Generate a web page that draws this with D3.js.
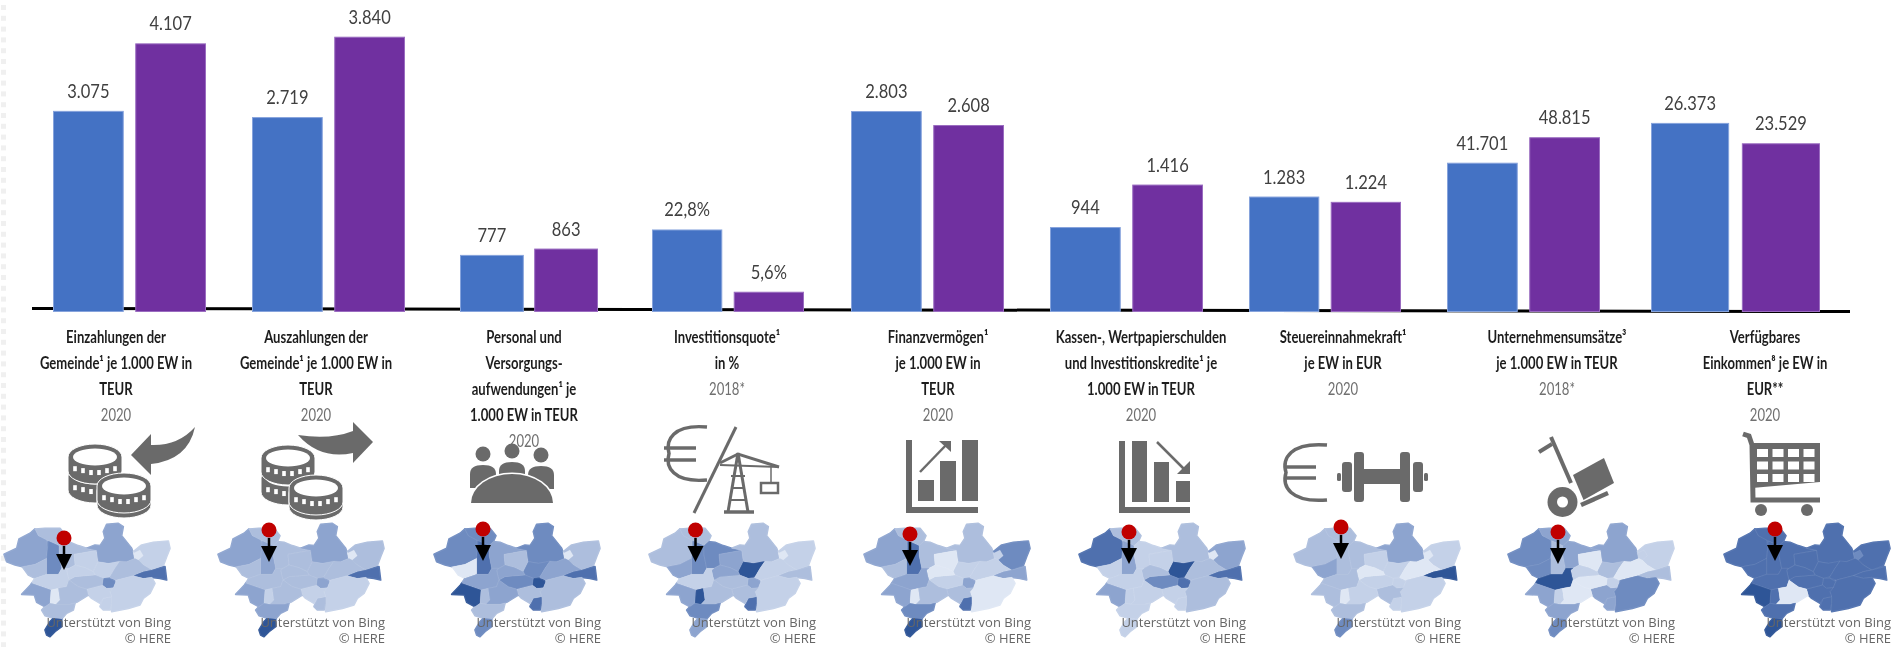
<!DOCTYPE html>
<html>
<head>
<meta charset="utf-8">
<script src="https://d3js.org/d3.v7.min.js"></script>
<style>
	html, body { margin: 0; padding: 0; background: #fff; overflow: hidden; }
	svg { display: block; }
</style>
</head>
<body>
<svg id="graph" width="1894" height="647"></svg>
<script>
/////////////////////////////////////////////////////////////////
// data
const categories = ["einzahlungen", "auszahlungen", "personal", "investitionsquote", "finanzvermoegen", "kassenkredite", "steuerkraft", "umsaetze", "einkommen"];
const seriesNames = ["gemeinde", "vergleich"];
const gemeindeValues = [3075, 2719, 777, 22.8, 2803, 944, 1283, 41701, 26373];
const vergleichValues = [4107, 3840, 863, 5.6, 2608, 1416, 1224, 48815, 23529];
// every group has its own unit, so its own top of scale
const scaleTops = [4770, 4352, 4245, 86.2, 4352, 3467, 3467, 87150, 43515];
const percentGroups = ["investitionsquote"];

const labelLines = [
	["Einzahlungen der", "Gemeinde¹ je 1.000 EW in", "TEUR"],
	["Auszahlungen der", "Gemeinde¹ je 1.000 EW in", "TEUR"],
	["Personal und", "Versorgungs-", "aufwendungen¹ je", "1.000 EW in TEUR"],
	["Investitionsquote¹", "in %"],
	["Finanzvermögen¹", "je 1.000 EW in", "TEUR"],
	["Kassen-, Wertpapierschulden", "und Investitionskredite¹ je", "1.000 EW in TEUR"],
	["Steuereinnahmekraft¹", "je EW in EUR"],
	["Unternehmensumsätze³", "je 1.000 EW in TEUR"],
	["Verfügbares", "Einkommen⁸ je EW in", "EUR**"]
];
const yearLabels = ["2020", "2020", "2020", "2018*", "2020", "2020", "2020", "2018*", "2020"];

// shade class of each map region, one row per map (same order as mapRegions)
const mapShades = [
	[3, 2, 4, 2, 2, 1, 3, 1, 0, 1, 2, 5, 4, 1, 1, 1, 2, 1, 1, 3, 0, 2, 2, 6],
	[3, 2, 3, 2, 2, 2, 3, 2, 0, 2, 2, 5, 3, 1, 2, 1, 2, 2, 2, 3, 1, 2, 3, 6],
	[4, 4, 5, 0, 3, 2, 4, 2, 0, 4, 3, 5, 6, 2, 5, 2, 4, 3, 3, 6, 2, 3, 2, 4],
	[2, 2, 4, 3, 4, 3, 2, 1, 0, 6, 1, 2, 3, 1, 5, 2, 2, 3, 1, 3, 6, 2, 4, 3],
	[3, 2, 5, 2, 2, 0, 2, 4, 1, 1, 1, 3, 3, 0, 5, 2, 1, 0, 3, 3, 0, 2, 4, 6],
	[5, 2, 3, 1, 1, 1, 2, 3, 0, 6, 2, 5, 5, 2, 1, 1, 4, 2, 1, 3, 1, 1, 1, 1],
	[2, 2, 2, 3, 2, 1, 3, 1, 0, 1, 0, 6, 1, 1, 1, 2, 1, 0, 2, 2, 0, 1, 2, 4],
	[4, 3, 2, 4, 3, 0, 3, 1, 1, 2, 0, 2, 1, 4, 3, 3, 0, 1, 6, 3, 1, 0, 3, 4],
	[5, 5, 5, 5, 5, 5, 5, 5, 4, 5, 5, 5, 5, 5, 5, 5, 5, 5, 5, 6, 5, 0, 5, 6]
];
/////////////////////////////////////////////////////////////////
// layout
const width = 1894;
const height = 647;
const baseY = 312;
const groupLeft = [53, 252, 460, 652, 851, 1050, 1249, 1447, 1651];
const groupRight = [206, 405, 598, 804, 1004, 1203, 1401, 1600, 1820];
const labelCenter = [116, 316, 524, 727, 938, 1141, 1343, 1557, 1765];
const labelTopY = 337;
const labelStep = 26;
const mapOriginX = [-5, 209, 425, 640, 855, 1070, 1285, 1499, 1715];
const pinX = [64, 269, 483, 695.5, 910, 1129, 1341, 1558, 1775];
const pinY = [538, 530, 529, 530, 534, 532, 527, 532, 529];
const barColors = {gemeinde: "#4472c4", vergleich: "#7030a0"};
const barEdges = {gemeinde: "#86a3dc", vergleich: "#9a6cc0"};
const iconGray = "#6b6b6b";

// region outlines, 3 units per pixel
const mapRegions = [
	[[27,118],[65,100],[72,72],[105,55],[120,42],[130,62],[155,72],[158,100],[155,130],[120,148],[82,155],[60,150],[35,140]],
	[[120,42],[150,40],[195,40],[213,62],[205,80],[192,92],[160,78],[130,62]],
	[[158,100],[160,78],[192,92],[192,120],[200,160],[190,178],[155,178],[155,130]],
	[[82,155],[120,148],[155,130],[155,178],[120,190],[100,180]],
	[[192,92],[205,80],[225,82],[250,92],[275,100],[305,106],[237,118],[240,150],[220,160],[200,160],[192,120]],
	[[237,118],[305,106],[310,140],[295,170],[270,158],[240,150]],
	[[325,50],[335,28],[370,25],[385,35],[380,62],[410,100],[420,130],[395,140],[340,145],[310,140],[305,106],[275,100],[300,90],[315,92],[330,70]],
	[[415,110],[440,90],[475,82],[520,78],[525,100],[515,125],[505,152],[470,165],[445,150],[430,135]],
	[[415,115],[435,105],[445,122],[430,135],[420,145]],
	[[310,140],[340,145],[375,138],[360,160],[345,185],[325,190],[300,180],[295,170]],
	[[375,138],[395,140],[420,130],[430,135],[445,150],[470,165],[445,170],[415,182],[365,195],[345,190],[345,185],[360,160]],
	[[415,182],[445,170],[470,165],[510,155],[515,195],[495,190],[470,187],[445,190]],
	[[325,190],[345,190],[362,200],[355,218],[335,220],[322,210]],
	[[355,218],[365,195],[415,182],[445,190],[470,187],[480,205],[465,235],[445,250],[435,270],[400,280],[350,290],[350,265],[350,245],[345,230]],
	[[315,275],[325,250],[350,245],[350,265],[345,285],[325,285]],
	[[275,222],[310,213],[322,210],[335,220],[355,218],[345,230],[350,245],[325,250],[315,265],[290,250],[280,240]],
	[[222,195],[240,185],[300,180],[325,190],[322,210],[275,222],[250,215]],
	[[215,165],[240,150],[270,158],[295,170],[300,180],[240,185],[222,195],[218,180]],
	[[120,190],[155,178],[190,178],[200,160],[220,160],[215,165],[218,180],[222,195],[215,215],[190,220],[168,225],[140,215],[110,205]],
	[[80,238],[105,212],[110,205],[140,215],[168,225],[165,265],[150,275],[125,262],[118,240]],
	[[168,225],[190,220],[195,255],[183,268],[165,265]],
	[[190,220],[215,215],[222,195],[250,215],[275,222],[280,240],[245,262],[225,268],[183,268],[195,255]],
	[[140,285],[150,275],[165,265],[183,268],[225,268],[240,265],[235,285],[215,295],[200,312],[175,310],[150,302]],
	[[150,345],[165,320],[175,310],[200,312],[200,335],[180,350],[165,365],[155,360]]
];

const deFormat = d3.formatLocale({decimal: ",", thousands: ".", grouping: [3], currency: ["", " €"]});
const intFormat = deFormat.format(",d");
const pctFormat = deFormat.format(".1f");

const shadeColor = d3.scaleLinear()
	.domain([0, 1, 2, 3, 4, 5, 6])
	.range(["#dfe7f4", "#c4d1e8", "#adbedd", "#8da4cf", "#6e8bc0", "#4f70ae", "#2f5597"]);

var graph = d3.select("#graph").attr("viewBox", [0, 0, width, height]);

var defs = graph.append("defs");
defs.append("filter").attr("id", "soft").attr("x", "-5%").attr("y", "-10%").attr("width", "110%").attr("height", "120%")
	.append("feGaussianBlur").attr("stdDeviation", 0.7);
defs.append("filter").attr("id", "softer").attr("x", "-5%").attr("y", "-10%").attr("width", "110%").attr("height", "120%")
	.append("feGaussianBlur").attr("stdDeviation", 0.35);

drawPageEdge();
drawAxis();
drawBars();
drawLabels();
drawIcons();
drawMaps();

//dotted edge of the slide on the left
function drawPageEdge(){
	graph.append("g")
		.selectAll("rect")
		.data(d3.range(0, 60))
		.enter()
		.append("rect")
			.attr("x", 1)
			.attr("y", d => 5 + d * 10.8)
			.attr("width", 5)
			.attr("height", 5)
			.attr("fill", "#f0f0f0");
}

function drawAxis(){
	var line = d3.line();
	graph.append("path")
		.attr("d", line([[32, 308.5], [1850, 311.5]]))
		.attr("stroke", "#000")
		.attr("stroke-width", 3)
		.attr("fill", "none");
}

function drawBars(){
	categories.forEach(function(cat, i){
		var x = d3.scaleBand()
			.domain(seriesNames)
			.range([groupLeft[i], groupRight[i]])
			.paddingInner(0.14);
		var y = d3.scaleLinear()
			.domain([0, scaleTops[i]])
			.range([baseY, 0]);
		var vals = [gemeindeValues[i], vergleichValues[i]];
		var fmt = percentGroups.includes(cat) ? (d => pctFormat(d) + "%") : intFormat;

		var g = graph.append("g").attr("class", "group " + cat);
		g.selectAll("rect")
			.data(vals)
			.enter()
			.append("rect")
				.attr("x", (d, k) => x(seriesNames[k]) + 0.5)
				.attr("y", d => y(d) + 0.5)
				.attr("width", x.bandwidth() - 1)
				.attr("height", d => baseY - y(d) - 1)
				.attr("fill", (d, k) => barColors[seriesNames[k]])
				.attr("stroke", (d, k) => barEdges[seriesNames[k]])
				.attr("stroke-width", 1);

		g.selectAll("text")
			.data(vals)
			.enter()
			.append("text")
				.attr("transform", (d, k) => "translate(" + (x(seriesNames[k]) + x.bandwidth() / 2) + "," + (y(d) - 13) + ") scale(0.87,1)")
				.attr("text-anchor", "middle")
				.style("font", "19px Lato")
				.style("fill", "#404040")
				.attr("filter", "url(#softer)")
				.text(fmt);
	});
}

function drawLabels(){
	var all = graph.append("g").attr("filter", "url(#soft)");
	labelLines.forEach(function(lines, i){
		var g = all.append("g")
			.attr("transform", "translate(" + labelCenter[i] + "," + labelTopY + ") scale(0.77,1)");
		g.selectAll("text.line")
			.data(lines)
			.enter()
			.append("text")
				.attr("class", "line")
				.attr("y", (d, k) => k * labelStep + 6)
				.attr("text-anchor", "middle")
				.style("font", "bold 17px Lato")
				.style("fill", "#1f1f1f")
				.text(d => d);
		g.append("text")
			.attr("y", lines.length * labelStep + 6)
			.attr("text-anchor", "middle")
			.style("font", "17px Lato")
			.style("fill", "#6f6f6f")
			.text(yearLabels[i]);
	});
}

function coin(g, cx, cy){
	g.append("path")
		.attr("d", "M" + (cx - 27) + "," + cy + "A27,13 0 0 1 " + (cx + 27) + "," + cy + "V" + (cy + 14) + "A27,13 0 0 1 " + (cx - 27) + "," + (cy + 14) + "Z")
		.attr("fill", iconGray)
		.attr("stroke", "#fff")
		.attr("stroke-width", 1);
	g.append("ellipse")
		.attr("cx", cx).attr("cy", cy)
		.attr("rx", 22).attr("ry", 8.5)
		.attr("fill", "#fff");
	//notches on the rim
	g.selectAll(null)
		.data([-20, -12, -4, 4, 12, 20])
		.enter()
		.append("rect")
			.attr("x", d => cx + d - 1.8)
			.attr("y", d => cy + 14 - Math.abs(d) * 0.24)
			.attr("width", 3.6)
			.attr("height", 5)
			.attr("fill", "#fff");
}

function drawIcons(){
	var icons = graph.append("g")
		.attr("filter", "url(#softer)")
		.attr("fill", iconGray);

	//coins with arrow in
	coin(icons, 95, 476);
	coin(icons, 95, 457);
	coin(icons, 124, 491);
	coin(icons, 124, 486);
	icons.append("path").attr("d", "M195,427Q188,460 151,464L151,475L131,455L151,434L151,445Q178,446 195,427Z");

	//coins with arrow out
	coin(icons, 288, 478);
	coin(icons, 288, 458);
	coin(icons, 316, 493);
	coin(icons, 316, 488);
	icons.append("path").attr("d", "M298,435Q330,440 353,431L353,422L373,442L353,463L353,453Q320,460 298,435Z");

	//people round a table
	[[483, 454], [512, 451], [541, 455]].forEach(function(p, k){
		icons.append("circle").attr("cx", p[0]).attr("cy", p[1]).attr("r", 7.5);
		icons.append("path")
			.attr("d", "M" + (p[0] - 13) + "," + (p[1] + 28) + "V" + (p[1] + 20) + "Q" + (p[0] - 13) + "," + (p[1] + 11) + " " + p[0] + "," + (p[1] + 11) + "Q" + (p[0] + 13) + "," + (p[1] + 11) + " " + (p[0] + 13) + "," + (p[1] + 20) + "V" + (p[1] + 34) + "H" + (p[0] - 13) + "Z");
	});
	icons.append("path")
		.attr("d", "M471,503A41,29 0 0 1 553,503Z")
		.attr("stroke", "#fff")
		.attr("stroke-width", 3)
		.attr("paint-order", "stroke");

	//euro and slash and crane
	euro(icons, 707, 427, 480, 669, 664, 696, 448, 460);
	thickLine(icons, [[736, 427], [694, 513]], 3);
	thickLine(icons, [[738, 453], [728, 512]], 3);
	thickLine(icons, [[738, 453], [748, 512]], 3);
	thickLine(icons, [[724, 512], [754, 512]], 3.5);
	thickLine(icons, [[720, 463], [738, 454], [779, 467]], 3);
	thickLine(icons, [[720, 465], [779, 467]], 2);
	[476, 488, 500].forEach(d => thickLine(icons, [[731, d], [745, d]], 2));
	thickLine(icons, [[771, 467], [771, 483]], 1.5);
	icons.append("rect").attr("x", 761).attr("y", 483).attr("width", 17).attr("height", 10)
		.attr("fill", "none").attr("stroke", iconGray).attr("stroke-width", 2.5);

	//rising bars
	icons.append("path").attr("d", "M906,440H912V507H978V513H906Z");
	icons.append("rect").attr("x", 918).attr("y", 480).attr("width", 16).attr("height", 21);
	icons.append("rect").attr("x", 940).attr("y", 461).attr("width", 16).attr("height", 40);
	icons.append("rect").attr("x", 962).attr("y", 440).attr("width", 16).attr("height", 61);
	thickLine(icons, [[920, 472], [948, 443]], 2.5);
	icons.append("path").attr("d", "M939,441H951V452Z");

	//falling bars
	icons.append("path").attr("d", "M1119,441H1125V507H1190V513H1119Z");
	icons.append("rect").attr("x", 1132).attr("y", 441).attr("width", 15).attr("height", 61);
	icons.append("rect").attr("x", 1154).attr("y", 462).attr("width", 15).attr("height", 40);
	icons.append("rect").attr("x", 1176).attr("y", 481).attr("width", 14).attr("height", 21);
	thickLine(icons, [[1157, 442], [1186, 471]], 2.5);
	icons.append("path").attr("d", "M1190,461V474H1177Z");

	//euro and dumbbell
	euro(icons, 1327, 445, 500, 1286, 1284, 1316, 467, 478);
	icons.append("rect").attr("x", 1360).attr("y", 469).attr("width", 44).attr("height", 15);
	icons.append("rect").attr("x", 1354).attr("y", 452).attr("width", 10).attr("height", 50).attr("rx", 3);
	icons.append("rect").attr("x", 1400).attr("y", 452).attr("width", 10).attr("height", 50).attr("rx", 3);
	icons.append("rect").attr("x", 1342).attr("y", 462).attr("width", 10).attr("height", 30).attr("rx", 3);
	icons.append("rect").attr("x", 1413).attr("y", 462).attr("width", 10).attr("height", 30).attr("rx", 3);
	icons.append("rect").attr("x", 1337).attr("y", 473).attr("width", 4).attr("height", 8).attr("rx", 1.5);
	icons.append("rect").attr("x", 1424).attr("y", 473).attr("width", 4).attr("height", 8).attr("rx", 1.5);

	//hand truck
	thickLine(icons, [[1539, 452], [1552, 444]], 4);
	thickLine(icons, [[1551, 437], [1571, 483]], 4);
	icons.append("circle").attr("cx", 1562.5).attr("cy", 502).attr("r", 15);
	icons.append("circle").attr("cx", 1562.5).attr("cy", 502).attr("r", 5.5).attr("fill", "#fff");
	icons.append("path").attr("d", "M1573,475L1604,458L1614,483L1583.5,500Z");
	thickLine(icons, [[1581, 505], [1608, 493]], 4.5);

	//shopping cart
	thickLine(icons, [[1743, 434], [1749, 436], [1752, 445], [1753, 500], [1820, 500]], 5);
	icons.append("path").attr("d", "M1752,443H1820V482L1752,488Z");
	d3.range(4).forEach(function(c){
		d3.range(3).forEach(function(r){
			icons.append("rect")
				.attr("x", 1757 + c * 15.5)
				.attr("y", 449 + r * 12.5)
				.attr("width", 11)
				.attr("height", 8)
				.attr("fill", "#fff");
		});
	});
	icons.append("circle").attr("cx", 1761).attr("cy", 510).attr("r", 6);
	icons.append("circle").attr("cx", 1807).attr("cy", 510).attr("r", 6);
}

function thickLine(g, pts, w){
	g.append("path")
		.attr("d", d3.line()(pts))
		.attr("fill", "none")
		.attr("stroke", iconGray)
		.attr("stroke-width", w);
}

function euro(g, xEnd, yTop, yBottom, xLeft, barLeft, barRight, bar1, bar2){
	var rx = xEnd - xLeft;
	var ry = (yBottom - yTop) / 2;
	g.append("path")
		.attr("d", "M" + xEnd + "," + yTop + "C" + (xLeft + rx * 0.1) + "," + (yTop - 3) + " " + (xLeft - rx * 0.1) + "," + (yTop + ry * 0.5) + " " + xLeft + "," + (yTop + ry) + "C" + (xLeft - rx * 0.1) + "," + (yBottom - ry * 0.5) + " " + (xLeft + rx * 0.1) + "," + (yBottom + 3) + " " + xEnd + "," + yBottom)
		.attr("fill", "none")
		.attr("stroke", iconGray)
		.attr("stroke-width", 3.5);
	thickLine(g, [[barLeft, bar1], [barRight, bar1]], 3.5);
	thickLine(g, [[barLeft, bar2], [barRight, bar2]], 3.5);
}

function drawMaps(){
	var outline = d3.line().curve(d3.curveLinearClosed);
	mapShades.forEach(function(shades, m){
		var g = graph.append("g");
		var shapes = g.append("g")
			.attr("filter", "url(#softer)")
			.attr("transform", "translate(" + mapOriginX[m] + ",515) scale(0.3333)");

		//first pass seals the gaps between regions with their own colour
		shapes.selectAll("path.seal")
			.data(mapRegions)
			.enter()
			.append("path")
				.attr("class", "seal")
				.attr("d", d => outline(d))
				.attr("fill", (d, r) => shadeColor(shades[r]))
				.attr("stroke", (d, r) => shadeColor(shades[r]))
				.attr("stroke-width", 5)
				.attr("stroke-linejoin", "round");
		shapes.selectAll("path.region")
			.data(mapRegions)
			.enter()
			.append("path")
				.attr("class", "region")
				.attr("d", d => outline(d))
				.attr("fill", (d, r) => shadeColor(shades[r]))
				.attr("stroke", "#fff")
				.attr("stroke-opacity", 0.18)
				.attr("stroke-width", 1.2);

		//marker of the municipality
		var px = pinX[m];
		var py = pinY[m];
		g.append("path")
			.attr("d", d3.line()([[px, py + 8], [px, py + 17]]))
			.attr("stroke", "#000")
			.attr("stroke-width", 2.5);
		g.append("path")
			.attr("d", d3.line().curve(d3.curveLinearClosed)([[px - 8, py + 16], [px + 8, py + 16], [px, py + 32]]))
			.attr("fill", "#000");
		g.append("circle")
			.attr("cx", px)
			.attr("cy", py)
			.attr("r", 7.5)
			.attr("fill", "#c00000");

		//map credits
		var cx = mapOriginX[m] + 176;
		g.selectAll("text")
			.data([["Unterstützt von Bing", 627], ["© HERE", 642.5]])
			.enter()
			.append("text")
				.attr("x", cx)
				.attr("y", d => d[1])
				.attr("text-anchor", "end")
				.attr("filter", "url(#softer)")
				.style("font", "13px 'Open Sans'")
				.style("fill", "#666")
				.text(d => d[0]);
	});
}
</script>
</body>
</html>
